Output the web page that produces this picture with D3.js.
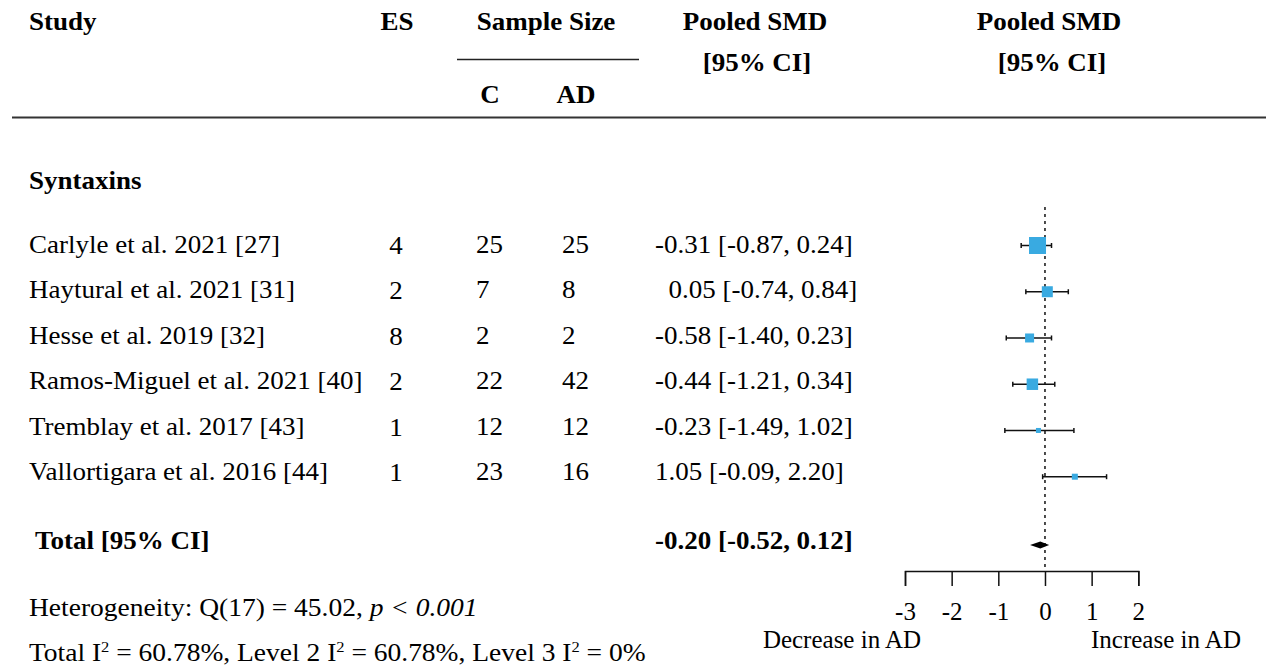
<!DOCTYPE html>
<html>
<head>
<meta charset="utf-8">
<script src="https://cdn.jsdelivr.net/npm/d3@7"></script>
<style>
  html, body { margin: 0; padding: 0; background: #fff; }
  svg text { font-family: "Liberation Serif", "Times New Roman", serif; fill: #000; white-space: pre; }
</style>
</head>
<body>
<svg id="chart" width="1267" height="666"></svg>
<script>
// ---------- data ----------
const groupLabel = "Syntaxins";
const studies = [
  "Carlyle et al. 2021 [27]",
  "Haytural et al. 2021 [31]",
  "Hesse et al. 2019 [32]",
  "Ramos-Miguel et al. 2021 [40]",
  "Tremblay et al. 2017 [43]",
  "Vallortigara et al. 2016 [44]"
];
const esCounts = [4, 2, 8, 2, 1, 1];
const sampleC = [25, 7, 2, 22, 12, 23];
const sampleAD = [25, 8, 2, 42, 12, 16];
const smdLabels = [
  "-0.31 [-0.87, 0.24]",
  "\u20020.05 [-0.74, 0.84]",
  "-0.58 [-1.40, 0.23]",
  "-0.44 [-1.21, 0.34]",
  "-0.23 [-1.49, 1.02]",
  "1.05 [-0.09, 2.20]"
];
// plotted values (as drawn in the forest panel)
const plotEst = [-0.16, 0.05, -0.33, -0.27, -0.14, 0.64];
const plotLo  = [-0.51, -0.41, -0.83, -0.69, -0.86, -0.05];
const plotHi  = [0.14, 0.50, 0.14, 0.21, 0.62, 1.32];
const weights = [28.9, 12.1, 8.1, 13.2, 2.5, 3.6];
const totalLabel = "Total [95% CI]";
const totalSmdLabel = "-0.20 [-0.52, 0.12]";
const totalEst = -0.10, totalLo = -0.32, totalHi = 0.09;
const axisTicks = [-3, -2, -1, 0, 1, 2];
const heteroText = "Heterogeneity: Q(17) = 45.02, ";
const heteroP = "p < 0.001";
const i2Parts = ["Total I", "2", " = 60.78%, Level 2 I", "2", " = 60.78%, Level 3 I", "2", " = 0%"];

// ---------- layout ----------
const svg = d3.select("#chart");
const FS = 25;
const SX = 1.08;
const x = d3.scaleLinear().domain([-3, 2]).range([905, 1138.3]);
const idx = d3.range(studies.length);
const yText = d3.scalePoint().domain(idx).range([253, 480]);
const yMark = d3.scalePoint().domain(idx).range([245.5, 476.7]);
const sizeScale = d3.scaleSqrt().domain([0, d3.max(weights)]).range([0, 17]);

function txt(xp, yp, s, opts = {}) {
  const sx = opts.sx || SX;
  return svg.append("text")
    .attr("transform", `translate(${xp},${yp}) scale(${sx},1)`)
    .attr("font-size", opts.size || FS)
    .attr("font-weight", opts.bold ? "bold" : "normal")
    .attr("text-anchor", opts.anchor || "start")
    .text(s);
}

// headers
txt(29, 30, "Study", {bold: true});
txt(397, 30, "ES", {bold: true, anchor: "middle"});
txt(546, 30, "Sample Size", {bold: true, anchor: "middle"});
svg.append("line").attr("x1", 457).attr("x2", 639).attr("y1", 59.5).attr("y2", 59.5)
  .attr("stroke", "#222").attr("stroke-width", 1.5);
txt(490, 103, "C", {bold: true, anchor: "middle"});
txt(576, 103, "AD", {bold: true, anchor: "middle"});
txt(755, 30, "Pooled SMD", {bold: true, anchor: "middle"});
txt(757, 71, "[95% CI]", {bold: true, anchor: "middle"});
txt(1049, 30, "Pooled SMD", {bold: true, anchor: "middle"});
txt(1052, 71, "[95% CI]", {bold: true, anchor: "middle"});
svg.append("line").attr("x1", 12).attr("x2", 1266).attr("y1", 117.5).attr("y2", 117.5)
  .attr("stroke", "#333").attr("stroke-width", 2);

txt(29, 189, groupLabel, {bold: true});

// table rows
const rows = svg.append("g");
function colText(cls, xp, dy, accessor, anchor) {
  rows.selectAll("text." + cls).data(idx).join("text").attr("class", cls)
    .attr("transform", i => `translate(${xp},${yText(i) + dy}) scale(${SX},1)`)
    .attr("font-size", FS).attr("text-anchor", anchor || "start")
    .text(accessor);
}
colText("study", 29, 0, i => studies[i]);
colText("es", 396, 1, i => esCounts[i], "middle");
colText("nc", 476, 0, i => sampleC[i]);
colText("nad", 562, 0, i => sampleAD[i]);
colText("smd", 655, 0, i => smdLabels[i]);

// total row
txt(35, 549, totalLabel, {bold: true});
txt(655, 549, totalSmdLabel, {bold: true});

// footer
const h = txt(29, 616, heteroText, {sx: 1.1});
h.append("tspan").attr("font-style", "italic").text(heteroP);
const t2 = txt(29, 661, "", {sx: 1.1});
i2Parts.forEach((p, k) => {
  if (k % 2 === 1) {
    t2.append("tspan").attr("font-size", 15).attr("dy", -9).text(p);
  } else {
    t2.append("tspan").attr("dy", k === 0 ? 0 : 9).text(p);
  }
});

// forest panel
const plot = svg.append("g");
plot.append("line").attr("x1", x(0)).attr("x2", x(0)).attr("y1", 207).attr("y2", 571)
  .attr("stroke", "#111").attr("stroke-width", 1.5).attr("stroke-dasharray", "3,4");

plot.selectAll("line.ci").data(idx).join("line").attr("class", "ci")
  .attr("x1", i => x(plotLo[i])).attr("x2", i => x(plotHi[i]))
  .attr("y1", i => yMark(i)).attr("y2", i => yMark(i))
  .attr("stroke", "#111").attr("stroke-width", 1.5);
plot.selectAll("line.capL").data(idx).join("line").attr("class", "capL")
  .attr("x1", i => x(plotLo[i])).attr("x2", i => x(plotLo[i]))
  .attr("y1", i => yMark(i) - 2.5).attr("y2", i => yMark(i) + 2.5)
  .attr("stroke", "#111").attr("stroke-width", 1.5);
plot.selectAll("line.capR").data(idx).join("line").attr("class", "capR")
  .attr("x1", i => x(plotHi[i])).attr("x2", i => x(plotHi[i]))
  .attr("y1", i => yMark(i) - 2.5).attr("y2", i => yMark(i) + 2.5)
  .attr("stroke", "#111").attr("stroke-width", 1.5);
plot.selectAll("rect.sq").data(idx).join("rect").attr("class", "sq")
  .attr("x", i => x(plotEst[i]) - sizeScale(weights[i]) / 2)
  .attr("y", i => yMark(i) - sizeScale(weights[i]) / 2)
  .attr("width", i => sizeScale(weights[i]))
  .attr("height", i => sizeScale(weights[i]))
  .attr("fill", "#39AAE1");

// total diamond
const dy = 545;
plot.append("path")
  .attr("d", `M${x(totalLo)},${dy} L${x(totalEst)},${dy - 3.5} L${x(totalHi)},${dy} L${x(totalEst)},${dy + 3.5} Z`)
  .attr("fill", "#000");

// axis
const axisG = plot.append("g").attr("transform", "translate(0,571)");
axisG.call(d3.axisBottom(x).tickValues(axisTicks).tickSize(15).tickFormat(d3.format("d")).tickPadding(16));
axisG.select(".domain").attr("stroke", "#111").attr("stroke-width", 1.5);
axisG.selectAll(".tick line").attr("stroke", "#111").attr("stroke-width", 1.5);
axisG.selectAll(".tick text").attr("font-size", FS).attr("font-family", "Liberation Serif, serif")
  .attr("fill", "#000").text(d => d < 0 ? "-" + Math.abs(d) : d);

txt(842, 648, "Decrease in AD", {anchor: "middle", sx: 1});
txt(1166, 648, "Increase in AD", {anchor: "middle", sx: 1});
</script>
</body>
</html>
